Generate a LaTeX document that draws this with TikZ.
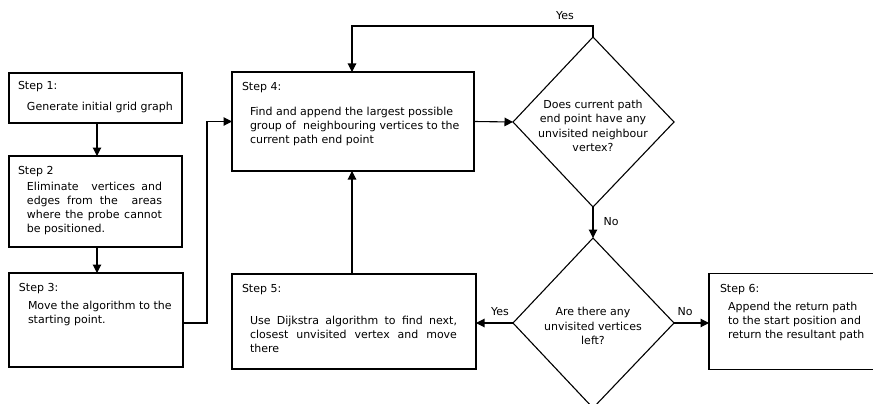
\documentclass[tikz,border=0pt]{standalone}
\usepackage{fontspec}
\setmainfont{DejaVu Sans}
\usetikzlibrary{arrows.meta,shapes.geometric}
\begin{document}
\begin{tikzpicture}[x=1pt,y=-1pt,
  every node/.style={inner sep=0pt,outer sep=0pt},
  box/.style={draw,line width=1.1pt,rectangle},
  txt/.style={anchor=west,font=\fontsize{11}{14}\selectfont},
  body/.style={anchor=north west,font=\fontsize{11}{14}\selectfont,align=left},
  jbody/.style={anchor=north west,font=\fontsize{11}{14}\selectfont,align=justify},
  ctr/.style={font=\fontsize{11}{14.3}\selectfont,align=center},
  lbl/.style={font=\fontsize{11}{14}\selectfont},
  arr/.style={line width=1.1pt,-{Triangle[length=8.5pt,width=8.5pt]}}]
\useasboundingbox (0,0) rectangle (873,404);
% boxes
\node[box,minimum width=173pt,minimum height=50pt] (b1) at (95.5,98) {};
\node[box,minimum width=173pt,minimum height=91pt] (b2) at (95.5,201.5) {};
\node[box,minimum width=174pt,minimum height=94pt] (b3) at (96,320) {};
\node[box,minimum width=242pt,minimum height=99pt] (b4) at (353,121.5) {};
\node[box,minimum width=244pt,minimum height=95pt] (b5) at (354,321.5) {};
\node[box,minimum width=175pt,minimum height=96pt] (b6) at (796.5,321.5) {};
% diamonds
\draw[line width=1.1pt] (593,37) coordinate (d1t) -- (674,122) coordinate (d1r) -- (593,207) coordinate (d1b) -- (513,122) coordinate (d1l) -- cycle;
\draw[line width=1.1pt] (593,238) coordinate (d2t) -- (674,323) coordinate (d2r) -- (593,408) coordinate (d2b) -- (513,323) coordinate (d2l) -- cycle;
% texts
\node[txt] (t1a) at (18,87) {Step 1:};
\node[txt] (t1b) at (27,107) {Generate initial grid graph};
\node[txt] (t2a) at (18,172) {Step 2};
\node[jbody,text width=135pt] (t2b) at (27,182) {Eliminate\ \ vertices and\linebreak edges from the\ \ areas\linebreak where the probe cannot\linebreak be positioned.};
\node[txt] (t3a) at (19,289) {Step 3:};
\node[body] (t3b) at (28,301) {Move the algorithm to the\\starting point.};
\node[txt] (t4a) at (242,88) {Step 4:};
\node[body] (t4b) at (250,107) {Find and append the largest possible\\group of\ \ neighbouring vertices to the\\current path end point};
\node[ctr] (t4c) at (593,126) {Does current path\\end point have any\\unvisited neighbour\\vertex?};
\node[txt] (t5a) at (242,290) {Step 5:};
\node[jbody,text width=207pt] (t5b) at (250,316) {Use Dijkstra algorithm to find next,\linebreak closest unvisited vertex and move\linebreak there};
\node[ctr] (t5c) at (593,326) {Are there any\\unvisited vertices\\left?};
\node[txt] (t6a) at (720,290) {Step 6:};
\node[body] (t6b) at (728,302) {Append the return path\\to the start position and\\return the resultant path};
% labels
\node[lbl] (yes1) at (565,16) {Yes};
\node[lbl] (no1) at (611,222) {No};
\node[lbl] (yes2) at (500,312) {Yes};
\node[lbl] (no2) at (685,312) {No};
% connectors
\draw[arr] (b1.south -| 97,0) -- (b2.north -| 97,0);
\draw[arr] (b2.south -| 97,0) -- (b3.north -| 97,0);
\coordinate (c3) at (207,323);
\draw[arr] (b3.east |- c3) -- (c3) |- (b4.west);
\draw[arr] (b4.east) -- (d1l);
\coordinate (cy) at (352,26);
\draw[arr] (d1t) -- (d1t |- cy) -- (cy) -- (cy |- b4.north);
\draw[arr] (d1b) -- (d2t);
\draw[arr] (d2l) -- (b5.east |- d2l);
\draw[arr] (d2r) -- (b6.west |- d2r);
\draw[arr] (b5.north -| cy) -- (b4.south -| cy);
\end{tikzpicture}
\end{document}
